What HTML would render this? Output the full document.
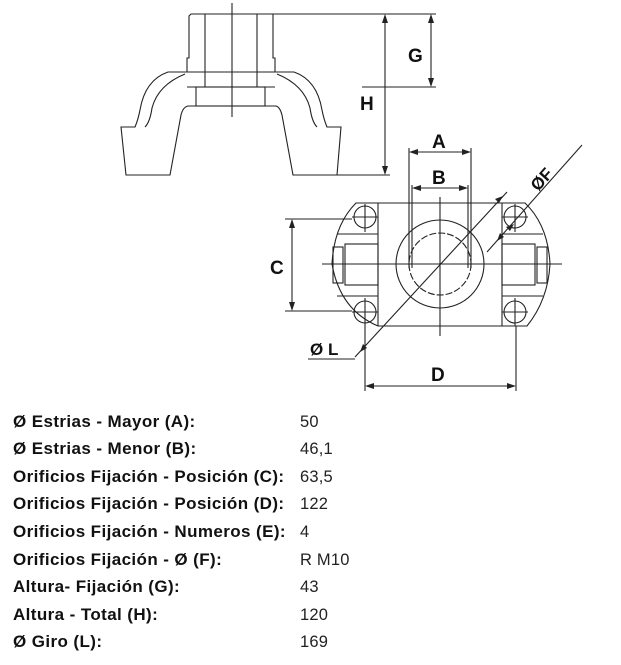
<!DOCTYPE html>
<html><head><meta charset="utf-8"><style>
body{margin:0;background:#fff;width:621px;height:665px;overflow:hidden;position:relative;font-family:"Liberation Sans",Arial,sans-serif}
svg{position:absolute;left:0;top:0}
.t{position:absolute;font-weight:bold;font-size:17px;letter-spacing:0.4px;color:#111;left:13px}
.v{position:absolute;font-size:16.5px;letter-spacing:0.2px;color:#222;left:300px}
</style></head><body>
<svg width="621" height="400" viewBox="0 0 621 400" fill="none" stroke="#222" stroke-width="1.1">
<line x1="232" y1="3" x2="232" y2="117"/>
<path d="M191 14 L273 14 L273 58 L275 58 L275 72 L187 72 L187 58 L189 58 L189 16 Z"/>
<line x1="205" y1="14" x2="205" y2="87"/><line x1="257" y1="14" x2="257" y2="87"/>
<path d="M187 72 L168 72 Q145 80 140 110 Q138 120 135 127 L121 127 L126 175 L170 175 L181 115 Q183 107 188 106 L276 106 Q280 107 282 115 L293 175 L337 175 L341 127 L327 127 Q324 120 322 110 Q317 80 294 72 L275 72"/>
<path d="M185 74 Q158 85 152 108 Q150 122 145 127"/>
<path d="M277 74 Q304 85 310 108 Q312 122 317 127"/>
<rect x="196" y="87" width="69" height="19"/>
<line x1="187" y1="87" x2="275" y2="87"/>
<line x1="273" y1="14" x2="436" y2="14"/>
<line x1="300" y1="175" x2="390" y2="175"/>
<line x1="362" y1="87" x2="436" y2="87"/>
<line x1="385" y1="16" x2="385" y2="173"/>
<line x1="431" y1="16" x2="431" y2="85"/>
<g fill="#222" stroke="none">
<path d="M385 14 l-3 9 h6z"/><path d="M385 175 l-3 -9 h6z"/>
<path d="M431 14 l-3 9 h6z"/><path d="M431 87 l-3 -9 h6z"/>
</g>
<path d="M356 203 L525 203 Q548 225 550 264 Q548 300 527 326 L378 326 Q340 310 332 264 Q334 225 356 203 Z"/>
<line x1="378" y1="203" x2="378" y2="326"/><line x1="502" y1="203" x2="502" y2="326"/>
<line x1="337" y1="234" x2="378" y2="234"/><line x1="337" y1="296" x2="378" y2="296"/>
<line x1="502" y1="234" x2="543" y2="234"/><line x1="502" y1="296" x2="543" y2="296"/>
<rect x="345" y="244" width="33" height="41"/><rect x="333" y="247" width="10" height="36"/>
<rect x="502" y="244" width="33" height="41"/><rect x="537" y="247" width="10" height="36"/>
<circle cx="365" cy="217" r="11"/><circle cx="365" cy="312" r="11"/>
<circle cx="515" cy="217" r="11"/><circle cx="515" cy="312" r="11"/>
<line x1="352" y1="217" x2="378" y2="217"/><line x1="365" y1="204" x2="365" y2="232"/>
<line x1="352" y1="312" x2="378" y2="312"/><line x1="365" y1="298" x2="365" y2="326"/>
<line x1="502" y1="217" x2="528" y2="217"/><line x1="515" y1="204" x2="515" y2="232"/>
<line x1="502" y1="312" x2="528" y2="312"/><line x1="515" y1="298" x2="515" y2="326"/>
<circle cx="440" cy="264" r="44"/>
<circle cx="440" cy="264" r="31" stroke-dasharray="7 2"/>
<line x1="322" y1="264" x2="562" y2="264"/>
<line x1="440" y1="197" x2="440" y2="336"/>
<line x1="409" y1="148" x2="409" y2="268"/><line x1="471" y1="148" x2="471" y2="268"/>
<line x1="412" y1="185" x2="412" y2="268"/><line x1="468" y1="185" x2="468" y2="268"/>
<line x1="411" y1="152" x2="469" y2="152"/><line x1="414" y1="188" x2="466" y2="188"/>
<line x1="285" y1="219" x2="352" y2="219"/><line x1="285" y1="311" x2="352" y2="311"/>
<line x1="292" y1="221" x2="292" y2="309"/>
<line x1="365" y1="326" x2="365" y2="391"/><line x1="516" y1="326" x2="516" y2="391"/>
<line x1="367" y1="386" x2="514" y2="386"/>
<line x1="355" y1="357" x2="507" y2="192"/>
<line x1="308" y1="359" x2="355" y2="359"/>
<line x1="487" y1="252" x2="582" y2="145"/>
<g fill="#222" stroke="none">
<path d="M409 152 l9 -3 v6z"/><path d="M471 152 l-9 -3 v6z"/>
<path d="M412 188 l9 -3 v6z"/><path d="M468 188 l-9 -3 v6z"/>
<path d="M292 219 l-3 9 h6z"/><path d="M292 311 l-3 -9 h6z"/>
<path d="M365 386 l9 -3 v6z"/><path d="M516 386 l-9 -3 v6z"/>
<path d="M497 241 l3 -8 l4 4z"/><path d="M514 224 l-8 3 l4 4z"/>
<path d="M360 352 l3 -8 l4 4z" /><path d="M503 196 l-8 3 l4 4z"/>
</g>
<g fill="#111" stroke="none" font-family="Liberation Sans,Arial,sans-serif" font-weight="bold" font-size="19">
<text x="408" y="62">G</text>
<text x="360" y="110">H</text>
<text x="432" y="148">A</text>
<text x="432" y="184">B</text>
<text x="270" y="274">C</text>
<text x="431" y="381">D</text>
<text x="310" y="355" font-size="17">Ø L</text>
<text x="0" y="0" font-size="17" transform="translate(538,192) rotate(-48)">ØF</text>
</g>
</svg>
<div class="t" style="top:412px">Ø Estrias - Mayor (A):</div><div class="v" style="top:413px">50</div>
<div class="t" style="top:439px">Ø Estrias - Menor (B):</div><div class="v" style="top:440px">46,1</div>
<div class="t" style="top:467px">Orificios Fijación - Posición (C):</div><div class="v" style="top:468px">63,5</div>
<div class="t" style="top:494px">Orificios Fijación - Posición (D):</div><div class="v" style="top:495px">122</div>
<div class="t" style="top:522px">Orificios Fijación - Numeros (E):</div><div class="v" style="top:523px">4</div>
<div class="t" style="top:550px">Orificios Fijación - Ø (F):</div><div class="v" style="top:551px">R M10</div>
<div class="t" style="top:577px">Altura- Fijación (G):</div><div class="v" style="top:578px">43</div>
<div class="t" style="top:605px">Altura - Total (H):</div><div class="v" style="top:606px">120</div>
<div class="t" style="top:632px">Ø Giro (L):</div><div class="v" style="top:633px">169</div>
</body></html>
